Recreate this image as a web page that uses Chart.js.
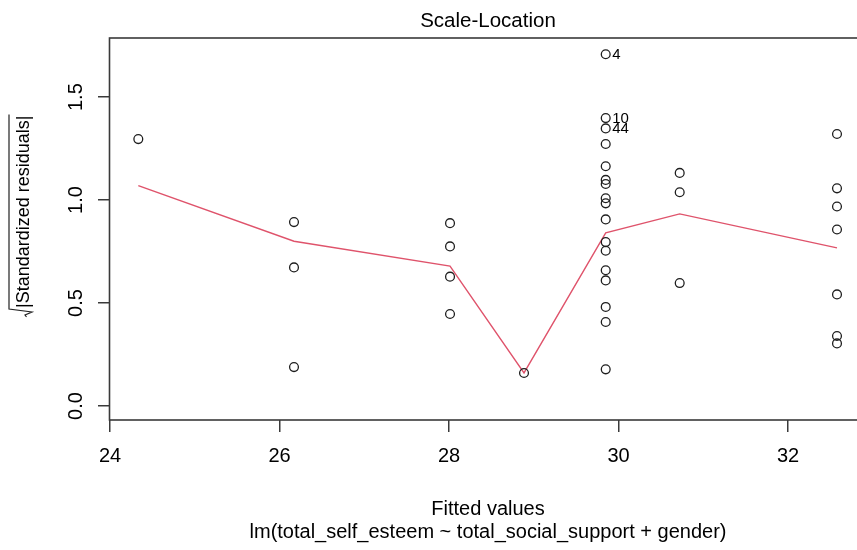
<!DOCTYPE html>
<html>
<head>
<meta charset="utf-8">
<script src="https://cdn.jsdelivr.net/npm/chart.js@4/dist/chart.umd.min.js"></script>
<style>
  html, body { margin: 0; padding: 0; background: #fff; }
  canvas { display: block; }
</style>
</head>
<body>
<canvas id="c" width="857" height="550"></canvas>
<script>
// Fitted values and sqrt(|standardized residuals|), one entry per observation
const fitted = [
  24.334,
  26.171, 26.171, 26.171,
  28.012, 28.012, 28.012, 28.012,
  28.885,
  29.849, 29.849, 29.849, 29.849, 29.849, 29.849, 29.849, 29.849, 29.849,
  29.849, 29.849, 29.849, 29.849, 29.849, 29.849, 29.849, 29.849,
  30.722, 30.722, 30.722,
  32.578, 32.578, 32.578, 32.578, 32.578, 32.578, 32.578
];
const sqrtStdResid = [
  1.296,
  0.893, 0.673, 0.189,
  0.888, 0.775, 0.628, 0.447,
  0.160,
  1.708, 1.398, 1.348, 1.272, 1.164, 1.098, 1.078, 1.009, 0.984,
  0.906, 0.796, 0.754, 0.659, 0.610, 0.481, 0.408, 0.178,
  1.132, 1.038, 0.597,
  1.321, 1.057, 0.969, 0.857, 0.542, 0.340, 0.304
];
// Observation numbers printed next to the most extreme points
const idIndex = [9, 10, 11];
const idText = ['4', '10', '44'];

// Smoother through the point cloud
const smoothX = [24.334, 26.171, 28.012, 28.885, 29.849, 30.722, 32.578];
const smoothY = [1.070, 0.800, 0.679, 0.161, 0.841, 0.933, 0.768];

// Axis ticks
const xTicks = [24, 26, 28, 30, 32];
const yTicks = [0.0, 0.5, 1.0, 1.5];

const titleText = 'Scale-Location';
const xTitle = 'Fitted values';
const subTitle = 'lm(total_self_esteem ~ total_social_support + gender)';
const yTitle = '|Standardized residuals|';

const FONT = '"Liberation Sans", Arial, sans-serif';
const INK = '#000';
const AXIS = '#3a3a3a';

const annotate = {
  id: 'annotate',
  afterDraw(chart) {
    const ctx = chart.ctx;
    const a = chart.chartArea;
    const xs = chart.scales.x, ys = chart.scales.y;
    ctx.save();

    // plot frame
    ctx.strokeStyle = AXIS;
    ctx.lineWidth = 1.6;
    ctx.strokeRect(a.left - 0.5, a.top, chart.width + 40 - a.left, a.bottom - a.top);

    // main title
    ctx.fillStyle = INK;
    ctx.font = '20.5px ' + FONT;
    ctx.textAlign = 'center';
    ctx.textBaseline = 'alphabetic';
    const midX = a.left + 378;
    ctx.fillText(titleText, midX, 27);

    // x axis title and model formula
    ctx.font = '20px ' + FONT;
    ctx.fillText(xTitle, midX, 515);
    ctx.fillText(subTitle, midX, 538);

    // y tick labels, rotated parallel to the axis
    ctx.font = '20px ' + FONT;
    yTicks.forEach(v => {
      const py = ys.getPixelForValue(v);
      ctx.save();
      ctx.translate(82, py);
      ctx.rotate(-Math.PI / 2);
      ctx.textAlign = 'center';
      ctx.fillText(v.toFixed(1), 0, 0);
      ctx.restore();
    });

    // y axis title: square root sign over |Standardized residuals|
    ctx.save();
    ctx.font = '18px ' + FONT;
    const w = ctx.measureText(yTitle).width;
    const textStart = 308;
    ctx.translate(29, textStart);
    ctx.rotate(-Math.PI / 2);
    ctx.textAlign = 'left';
    ctx.fillText(yTitle, 0, 0);
    ctx.strokeStyle = '#222';
    ctx.lineWidth = 1.2;
    ctx.beginPath();
    ctx.moveTo(w + 1, -20);
    ctx.lineTo(-1, -20);
    ctx.lineTo(-4, 3);
    ctx.lineTo(-7, -4);
    ctx.lineTo(-9, -2.5);
    ctx.stroke();
    ctx.restore();

    // observation labels beside flagged points
    ctx.font = '15px ' + FONT;
    ctx.textAlign = 'left';
    ctx.textBaseline = 'middle';
    idIndex.forEach((i, k) => {
      const px = xs.getPixelForValue(fitted[i]);
      const py = ys.getPixelForValue(sqrtStdResid[i]);
      ctx.fillText(idText[k], px + 6.5, py + 0.5);
    });

    ctx.restore();
  }
};

const tickGrid = {
  drawOnChartArea: false,
  drawTicks: true,
  tickLength: 12,
  color: AXIS,
  lineWidth: 1.5
};

new Chart(document.getElementById('c'), {
  type: 'scatter',
  data: {
    datasets: [
      {
        data: fitted.map((x, i) => ({ x, y: sqrtStdResid[i] })),
        showLine: false,
        pointStyle: 'circle',
        pointRadius: 4.4,
        pointBorderWidth: 1.3,
        pointBorderColor: '#1e1e1e',
        pointBackgroundColor: 'rgba(0,0,0,0)'
      },
      {
        data: smoothX.map((x, i) => ({ x, y: smoothY[i] })),
        showLine: true,
        borderColor: '#DF536B',
        borderWidth: 1.4,
        pointRadius: 0,
        tension: 0
      }
    ]
  },
  options: {
    responsive: false,
    animation: false,
    devicePixelRatio: 1,
    layout: { autoPadding: false, padding: { top: 38, right: 0, bottom: 0, left: 0 } },
    plugins: { legend: { display: false }, tooltip: { enabled: false } },
    scales: {
      x: {
        type: 'linear',
        min: 24.0,
        max: 32.814,
        afterBuildTicks: s => { s.ticks = xTicks.map(v => ({ value: v })); },
        afterFit: s => { s.height = 130; },
        grid: tickGrid,
        border: { display: false },
        ticks: {
          font: { family: FONT, size: 20 },
          color: INK,
          padding: 12,
          maxRotation: 0,
          minRotation: 0,
          autoSkip: false
        }
      },
      y: {
        type: 'linear',
        min: -0.068,
        max: 1.787,
        afterBuildTicks: s => { s.ticks = yTicks.map(v => ({ value: v })); },
        afterFit: s => { s.width = 110; },
        grid: tickGrid,
        border: { display: false },
        ticks: { display: false }
      }
    }
  },
  plugins: [annotate]
});
</script>
</body>
</html>
